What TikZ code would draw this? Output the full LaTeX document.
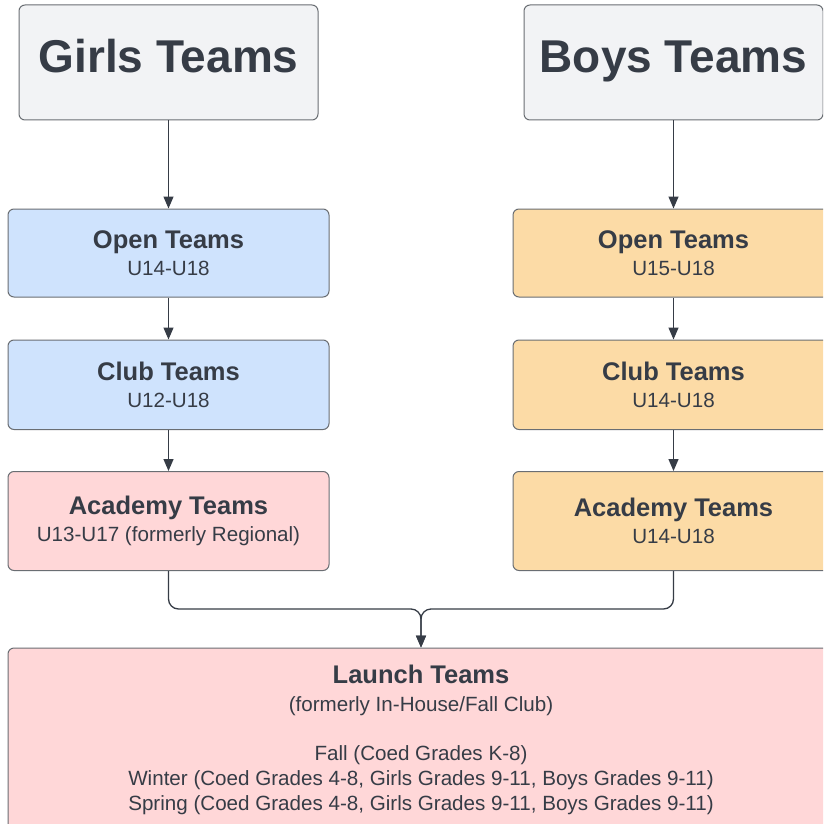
\documentclass[tikz,border=0pt]{standalone}
\usepackage{fontspec}
\setmainfont{Liberation Sans}
\usetikzlibrary{shapes, arrows.meta, positioning}
\definecolor{ink}{HTML}{363C46}
\definecolor{edgegray}{HTML}{6A6E73}
\definecolor{headgray}{HTML}{F2F3F5}
\definecolor{girlsblue}{HTML}{CFE3FD}
\definecolor{boysorange}{HTML}{FCDBA6}
\definecolor{academypink}{HTML}{FFD7D8}
\tikzstyle{header} = [draw=edgegray, fill=headgray, line width=1pt, rounded corners=6pt, minimum width=299pt, minimum height=115pt, text=ink, text height=33pt, text depth=12pt, font=\fontsize{46}{46}\selectfont\bfseries]
\tikzstyle{team} = [draw=edgegray, line width=1pt, rounded corners=6pt, minimum width=321pt, align=center, text=ink, font=\fontsize{20.6}{25}\selectfont]
\tikzstyle{link} = [draw=ink, line width=1.3pt, -{Triangle[width=10pt,length=12pt]}]
\newcommand{\teamtitle}[1]{{\fontsize{25.5}{25}\selectfont\bfseries #1}}

\begin{document}
\begin{tikzpicture}[x=1pt, y=1pt]
	\clip (0,0) rectangle (823,-824);
	\fill[white] (0,0) rectangle (823,-824);
	% column headers
	\node[header] (girls) at (168.5,-62.5) {Girls Teams};
	\node[header] (boys) at (673.5,-62.5) {Boys Teams};
	% girls column
	\node[team, fill=girlsblue, minimum height=88pt, below=88pt of girls] (gopen) {\teamtitle{Open Teams}\\[2pt]U14-U18};
	\node[team, fill=girlsblue, minimum height=89.5pt, below=42pt of gopen] (gclub) {\teamtitle{Club Teams}\\[2pt]U12-U18};
	\node[team, fill=academypink, minimum height=99pt, below=41pt of gclub] (gacademy) {\teamtitle{Academy Teams}\\[2pt]U13-U17 (formerly Regional)};
	% boys column
	\node[team, fill=boysorange, minimum height=88pt, below=88pt of boys] (bopen) {\teamtitle{Open Teams}\\[2pt]U15-U18};
	\node[team, fill=boysorange, minimum height=89.5pt, below=42pt of bopen] (bclub) {\teamtitle{Club Teams}\\[2pt]U14-U18};
	\node[team, fill=boysorange, minimum height=99pt, below=41pt of bclub] (bacademy) {\teamtitle{Academy Teams}\\[2pt]U14-U18};
	% launch
	\node[team, fill=academypink, minimum width=826pt, minimum height=184pt] (launch) at (421,-740) {\teamtitle{Launch Teams}\\[3pt](formerly In-House/Fall Club)\\[24pt]Fall (Coed Grades K-8)\\Winter (Coed Grades 4-8, Girls Grades 9-11, Boys Grades 9-11)\\Spring (Coed Grades 4-8, Girls Grades 9-11, Boys Grades 9-11)};
	\coordinate (merge) at (421,-609);
	% connectors
	\draw[link] (girls) -- (gopen);
	\draw[link] (gopen) -- (gclub);
	\draw[link] (gclub) -- (gacademy);
	\draw[link] (boys) -- (bopen);
	\draw[link] (bopen) -- (bclub);
	\draw[link] (bclub) -- (bacademy);
	\draw[link, rounded corners=10pt] (gacademy.south) |- (merge) -- (launch.north);
	\draw[link, rounded corners=10pt] (bacademy.south) |- (merge) -- (launch.north);
\end{tikzpicture}
\end{document}
